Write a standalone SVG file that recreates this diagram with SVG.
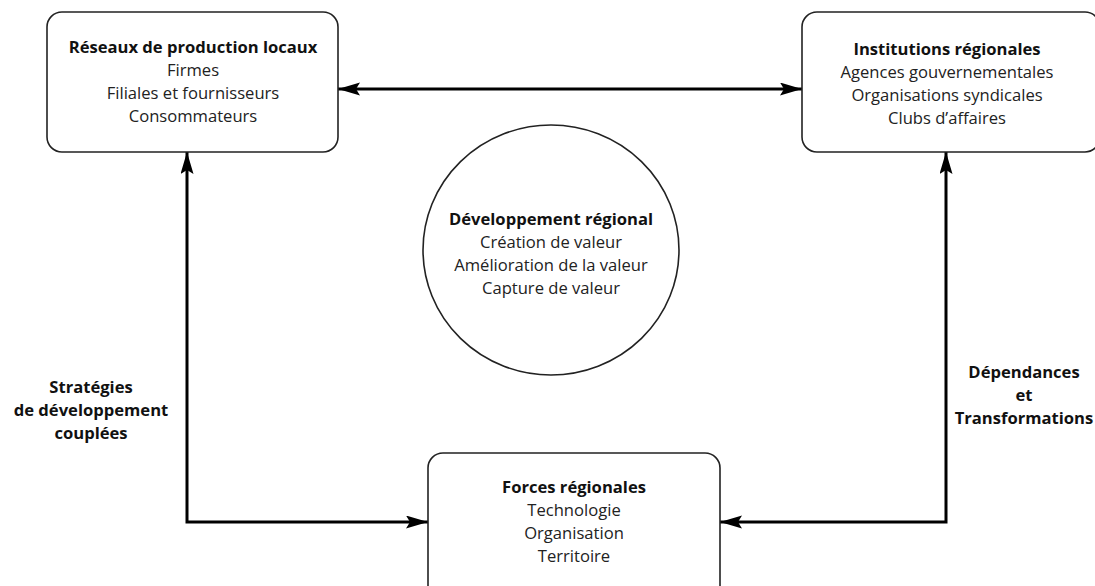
<svg xmlns="http://www.w3.org/2000/svg" width="1095" height="586" viewBox="0 0 1095 586">
  <defs>
    <marker id="arrow" markerUnits="userSpaceOnUse" markerWidth="24" markerHeight="14" refX="22" refY="6.5" orient="auto-start-reverse">
      <path d="M0,0 L22,6.5 L0,13 L4,6.5 Z" fill="#000"/>
    </marker>
    <style>
      .box { fill: #fff; stroke: #222; stroke-width: 1.6; }
      .link { fill: none; stroke: #000; stroke-width: 3; }
      text { font-family: "Open Sans", "Liberation Sans", sans-serif; font-size: 16.6px; fill: #222; text-anchor: middle; }
      .title { font-weight: bold; fill: #111; }
    </style>
  </defs>
  <rect width="1095" height="586" fill="#fff"/>

  <!-- connectors and their labels -->
  <g id="connectors">
    <path class="link" d="M338,89 H802" marker-start="url(#arrow)" marker-end="url(#arrow)"/>
    <path class="link" d="M187,152 V522 H428" marker-start="url(#arrow)" marker-end="url(#arrow)"/>
    <path class="link" d="M946,152 V522 H720" marker-start="url(#arrow)" marker-end="url(#arrow)"/>
    <text class="title" x="91" y="393">Stratégies</text>
    <text class="title" x="91" y="416">de développement</text>
    <text class="title" x="91" y="439">couplées</text>
    <text class="title" x="1024" y="378">Dépendances</text>
    <text class="title" x="1024" y="401">et</text>
    <text class="title" x="1024" y="424">Transformations</text>
  </g>

  <g id="reseaux">
    <rect class="box" x="47" y="12" width="291" height="140" rx="15"/>
    <text class="title" x="193" y="53">Réseaux de production locaux</text>
    <text x="193" y="76">Firmes</text>
    <text x="193" y="99">Filiales et fournisseurs</text>
    <text x="193" y="122">Consommateurs</text>
  </g>

  <g id="institutions">
    <rect class="box" x="802" y="12" width="298" height="140" rx="15"/>
    <text class="title" x="947" y="55">Institutions régionales</text>
    <text x="947" y="78">Agences gouvernementales</text>
    <text x="947" y="101">Organisations syndicales</text>
    <text x="947" y="124">Clubs d’affaires</text>
  </g>

  <g id="developpement">
    <ellipse class="box" cx="551" cy="250" rx="128" ry="125"/>
    <text class="title" x="551" y="225">Développement régional</text>
    <text x="551" y="248">Création de valeur</text>
    <text x="551" y="271">Amélioration de la valeur</text>
    <text x="551" y="294">Capture de valeur</text>
  </g>

  <g id="forces">
    <rect class="box" x="428" y="453" width="292" height="150" rx="15"/>
    <text class="title" x="574" y="493">Forces régionales</text>
    <text x="574" y="516">Technologie</text>
    <text x="574" y="539">Organisation</text>
    <text x="574" y="562">Territoire</text>
  </g>
</svg>
